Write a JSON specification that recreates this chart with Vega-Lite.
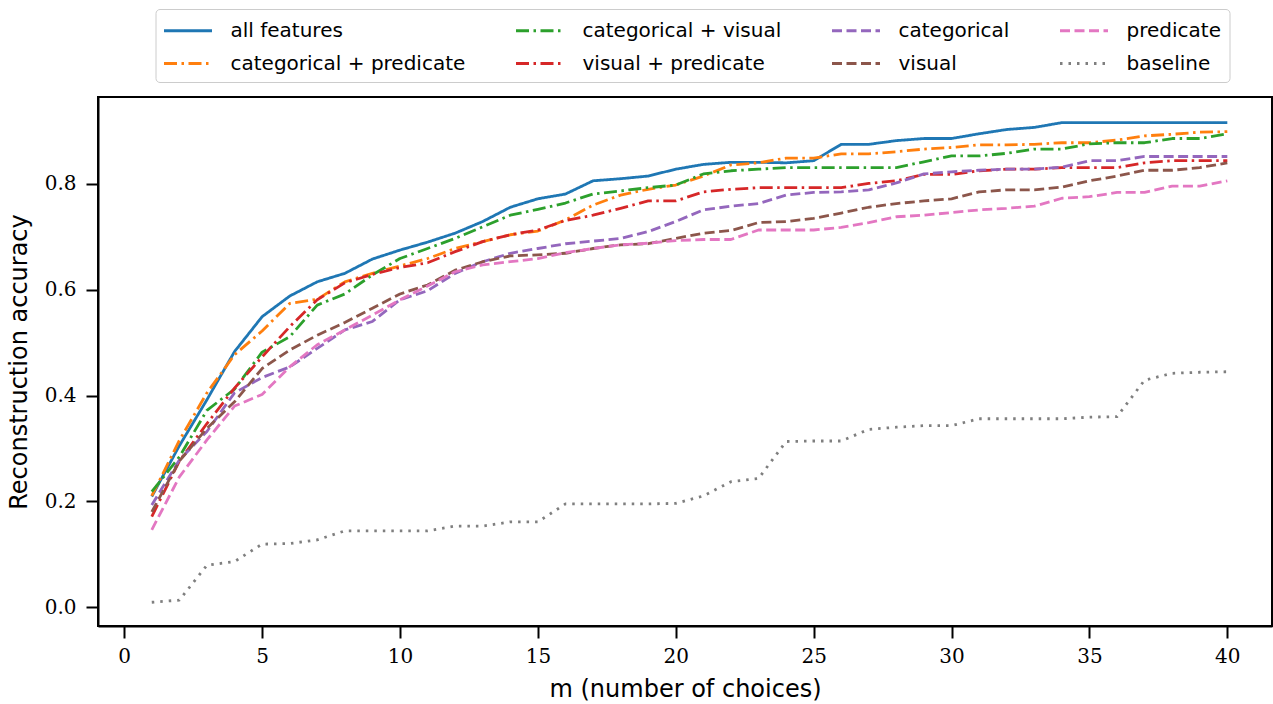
{
"$schema": "https://vega.github.io/schema/vega-lite/v6.json",
"width": 1174, "height": 529,
"autosize": {"type": "none"},
"padding": {"left": 98, "top": 97, "right": 1, "bottom": 78},
"background": "white",
"config": {
  "view": {"stroke": "black", "strokeWidth": 2},
  "axis": {"grid": false, "domainColor": "black", "domainWidth": 2, "tickColor": "black", "tickWidth": 2, "tickSize": 12,
    "labelFont": "DejaVu Serif", "labelFontSize": 20, "labelColor": "black",
    "titleFont": "DejaVu Sans", "titleFontSize": 24, "titleFontWeight": "normal", "titleColor": "black"},
  "legend": {"orient": "none", "legendX": 57.5, "legendY": -88, "columns": 4, "columnPadding": 44, "rowPadding": 9, "padding": 8,
    "strokeColor": "#cccccc", "fillColor": "white", "cornerRadius": 4, "labelFont": "DejaVu Sans", "labelFontSize": 20, "labelColor": "black", "labelLimit": 400,
    "symbolType": "M-2,0H2", "symbolSize": 576, "symbolStrokeWidth": 2.8, "symbolOffset": 11, "labelOffset": 29, "title": null}
},
"datasets": {"acc": [
{"m":1,"series":"all features","acc":0.209},{"m":2,"series":"all features","acc":0.305},{"m":3,"series":"all features","acc":0.392},{"m":4,"series":"all features","acc":0.483},{"m":5,"series":"all features","acc":0.549},{"m":6,"series":"all features","acc":0.588},{"m":7,"series":"all features","acc":0.615},{"m":8,"series":"all features","acc":0.631},{"m":9,"series":"all features","acc":0.658},{"m":10,"series":"all features","acc":0.675},{"m":11,"series":"all features","acc":0.690},{"m":12,"series":"all features","acc":0.707},{"m":13,"series":"all features","acc":0.729},{"m":14,"series":"all features","acc":0.756},{"m":15,"series":"all features","acc":0.772},{"m":16,"series":"all features","acc":0.781},{"m":17,"series":"all features","acc":0.806},{"m":18,"series":"all features","acc":0.810},{"m":19,"series":"all features","acc":0.815},{"m":20,"series":"all features","acc":0.828},{"m":21,"series":"all features","acc":0.837},{"m":22,"series":"all features","acc":0.841},{"m":23,"series":"all features","acc":0.841},{"m":24,"series":"all features","acc":0.840},{"m":25,"series":"all features","acc":0.844},{"m":26,"series":"all features","acc":0.875},{"m":27,"series":"all features","acc":0.875},{"m":28,"series":"all features","acc":0.882},{"m":29,"series":"all features","acc":0.886},{"m":30,"series":"all features","acc":0.886},{"m":31,"series":"all features","acc":0.895},{"m":32,"series":"all features","acc":0.903},{"m":33,"series":"all features","acc":0.907},{"m":34,"series":"all features","acc":0.916},{"m":35,"series":"all features","acc":0.916},{"m":36,"series":"all features","acc":0.916},{"m":37,"series":"all features","acc":0.916},{"m":38,"series":"all features","acc":0.916},{"m":39,"series":"all features","acc":0.916},{"m":40,"series":"all features","acc":0.916},
{"m":1,"series":"categorical + predicate","acc":0.210},{"m":2,"series":"categorical + predicate","acc":0.315},{"m":3,"series":"categorical + predicate","acc":0.405},{"m":4,"series":"categorical + predicate","acc":0.477},{"m":5,"series":"categorical + predicate","acc":0.522},{"m":6,"series":"categorical + predicate","acc":0.574},{"m":7,"series":"categorical + predicate","acc":0.582},{"m":8,"series":"categorical + predicate","acc":0.615},{"m":9,"series":"categorical + predicate","acc":0.631},{"m":10,"series":"categorical + predicate","acc":0.645},{"m":11,"series":"categorical + predicate","acc":0.659},{"m":12,"series":"categorical + predicate","acc":0.678},{"m":13,"series":"categorical + predicate","acc":0.691},{"m":14,"series":"categorical + predicate","acc":0.704},{"m":15,"series":"categorical + predicate","acc":0.711},{"m":16,"series":"categorical + predicate","acc":0.732},{"m":17,"series":"categorical + predicate","acc":0.760},{"m":18,"series":"categorical + predicate","acc":0.779},{"m":19,"series":"categorical + predicate","acc":0.790},{"m":20,"series":"categorical + predicate","acc":0.798},{"m":21,"series":"categorical + predicate","acc":0.815},{"m":22,"series":"categorical + predicate","acc":0.836},{"m":23,"series":"categorical + predicate","acc":0.840},{"m":24,"series":"categorical + predicate","acc":0.849},{"m":25,"series":"categorical + predicate","acc":0.849},{"m":26,"series":"categorical + predicate","acc":0.857},{"m":27,"series":"categorical + predicate","acc":0.857},{"m":28,"series":"categorical + predicate","acc":0.861},{"m":29,"series":"categorical + predicate","acc":0.866},{"m":30,"series":"categorical + predicate","acc":0.869},{"m":31,"series":"categorical + predicate","acc":0.874},{"m":32,"series":"categorical + predicate","acc":0.874},{"m":33,"series":"categorical + predicate","acc":0.875},{"m":34,"series":"categorical + predicate","acc":0.878},{"m":35,"series":"categorical + predicate","acc":0.878},{"m":36,"series":"categorical + predicate","acc":0.883},{"m":37,"series":"categorical + predicate","acc":0.891},{"m":38,"series":"categorical + predicate","acc":0.894},{"m":39,"series":"categorical + predicate","acc":0.898},{"m":40,"series":"categorical + predicate","acc":0.899},
{"m":1,"series":"categorical + visual","acc":0.218},{"m":2,"series":"categorical + visual","acc":0.284},{"m":3,"series":"categorical + visual","acc":0.372},{"m":4,"series":"categorical + visual","acc":0.412},{"m":5,"series":"categorical + visual","acc":0.482},{"m":6,"series":"categorical + visual","acc":0.511},{"m":7,"series":"categorical + visual","acc":0.571},{"m":8,"series":"categorical + visual","acc":0.592},{"m":9,"series":"categorical + visual","acc":0.628},{"m":10,"series":"categorical + visual","acc":0.659},{"m":11,"series":"categorical + visual","acc":0.678},{"m":12,"series":"categorical + visual","acc":0.697},{"m":13,"series":"categorical + visual","acc":0.719},{"m":14,"series":"categorical + visual","acc":0.741},{"m":15,"series":"categorical + visual","acc":0.752},{"m":16,"series":"categorical + visual","acc":0.764},{"m":17,"series":"categorical + visual","acc":0.781},{"m":18,"series":"categorical + visual","acc":0.787},{"m":19,"series":"categorical + visual","acc":0.793},{"m":20,"series":"categorical + visual","acc":0.798},{"m":21,"series":"categorical + visual","acc":0.819},{"m":22,"series":"categorical + visual","acc":0.825},{"m":23,"series":"categorical + visual","acc":0.828},{"m":24,"series":"categorical + visual","acc":0.831},{"m":25,"series":"categorical + visual","acc":0.831},{"m":26,"series":"categorical + visual","acc":0.831},{"m":27,"series":"categorical + visual","acc":0.831},{"m":28,"series":"categorical + visual","acc":0.831},{"m":29,"series":"categorical + visual","acc":0.842},{"m":30,"series":"categorical + visual","acc":0.853},{"m":31,"series":"categorical + visual","acc":0.853},{"m":32,"series":"categorical + visual","acc":0.858},{"m":33,"series":"categorical + visual","acc":0.866},{"m":34,"series":"categorical + visual","acc":0.866},{"m":35,"series":"categorical + visual","acc":0.876},{"m":36,"series":"categorical + visual","acc":0.878},{"m":37,"series":"categorical + visual","acc":0.878},{"m":38,"series":"categorical + visual","acc":0.886},{"m":39,"series":"categorical + visual","acc":0.886},{"m":40,"series":"categorical + visual","acc":0.895},
{"m":1,"series":"visual + predicate","acc":0.171},{"m":2,"series":"visual + predicate","acc":0.276},{"m":3,"series":"visual + predicate","acc":0.347},{"m":4,"series":"visual + predicate","acc":0.414},{"m":5,"series":"visual + predicate","acc":0.473},{"m":6,"series":"visual + predicate","acc":0.530},{"m":7,"series":"visual + predicate","acc":0.581},{"m":8,"series":"visual + predicate","acc":0.613},{"m":9,"series":"visual + predicate","acc":0.629},{"m":10,"series":"visual + predicate","acc":0.642},{"m":11,"series":"visual + predicate","acc":0.651},{"m":12,"series":"visual + predicate","acc":0.672},{"m":13,"series":"visual + predicate","acc":0.691},{"m":14,"series":"visual + predicate","acc":0.704},{"m":15,"series":"visual + predicate","acc":0.713},{"m":16,"series":"visual + predicate","acc":0.731},{"m":17,"series":"visual + predicate","acc":0.741},{"m":18,"series":"visual + predicate","acc":0.754},{"m":19,"series":"visual + predicate","acc":0.768},{"m":20,"series":"visual + predicate","acc":0.768},{"m":21,"series":"visual + predicate","acc":0.785},{"m":22,"series":"visual + predicate","acc":0.790},{"m":23,"series":"visual + predicate","acc":0.793},{"m":24,"series":"visual + predicate","acc":0.793},{"m":25,"series":"visual + predicate","acc":0.793},{"m":26,"series":"visual + predicate","acc":0.793},{"m":27,"series":"visual + predicate","acc":0.801},{"m":28,"series":"visual + predicate","acc":0.806},{"m":29,"series":"visual + predicate","acc":0.818},{"m":30,"series":"visual + predicate","acc":0.818},{"m":31,"series":"visual + predicate","acc":0.825},{"m":32,"series":"visual + predicate","acc":0.828},{"m":33,"series":"visual + predicate","acc":0.828},{"m":34,"series":"visual + predicate","acc":0.831},{"m":35,"series":"visual + predicate","acc":0.831},{"m":36,"series":"visual + predicate","acc":0.831},{"m":37,"series":"visual + predicate","acc":0.840},{"m":38,"series":"visual + predicate","acc":0.844},{"m":39,"series":"visual + predicate","acc":0.844},{"m":40,"series":"visual + predicate","acc":0.844},
{"m":1,"series":"categorical","acc":0.193},{"m":2,"series":"categorical","acc":0.278},{"m":3,"series":"categorical","acc":0.332},{"m":4,"series":"categorical","acc":0.405},{"m":5,"series":"categorical","acc":0.434},{"m":6,"series":"categorical","acc":0.454},{"m":7,"series":"categorical","acc":0.489},{"m":8,"series":"categorical","acc":0.524},{"m":9,"series":"categorical","acc":0.540},{"m":10,"series":"categorical","acc":0.581},{"m":11,"series":"categorical","acc":0.598},{"m":12,"series":"categorical","acc":0.631},{"m":13,"series":"categorical","acc":0.653},{"m":14,"series":"categorical","acc":0.669},{"m":15,"series":"categorical","acc":0.678},{"m":16,"series":"categorical","acc":0.687},{"m":17,"series":"categorical","acc":0.692},{"m":18,"series":"categorical","acc":0.697},{"m":19,"series":"categorical","acc":0.710},{"m":20,"series":"categorical","acc":0.729},{"m":21,"series":"categorical","acc":0.751},{"m":22,"series":"categorical","acc":0.758},{"m":23,"series":"categorical","acc":0.763},{"m":24,"series":"categorical","acc":0.779},{"m":25,"series":"categorical","acc":0.784},{"m":26,"series":"categorical","acc":0.785},{"m":27,"series":"categorical","acc":0.789},{"m":28,"series":"categorical","acc":0.802},{"m":29,"series":"categorical","acc":0.819},{"m":30,"series":"categorical","acc":0.823},{"m":31,"series":"categorical","acc":0.826},{"m":32,"series":"categorical","acc":0.828},{"m":33,"series":"categorical","acc":0.828},{"m":34,"series":"categorical","acc":0.832},{"m":35,"series":"categorical","acc":0.844},{"m":36,"series":"categorical","acc":0.844},{"m":37,"series":"categorical","acc":0.852},{"m":38,"series":"categorical","acc":0.852},{"m":39,"series":"categorical","acc":0.852},{"m":40,"series":"categorical","acc":0.852},
{"m":1,"series":"visual","acc":0.180},{"m":2,"series":"visual","acc":0.276},{"m":3,"series":"visual","acc":0.338},{"m":4,"series":"visual","acc":0.388},{"m":5,"series":"visual","acc":0.451},{"m":6,"series":"visual","acc":0.486},{"m":7,"series":"visual","acc":0.514},{"m":8,"series":"visual","acc":0.538},{"m":9,"series":"visual","acc":0.565},{"m":10,"series":"visual","acc":0.592},{"m":11,"series":"visual","acc":0.609},{"m":12,"series":"visual","acc":0.637},{"m":13,"series":"visual","acc":0.653},{"m":14,"series":"visual","acc":0.664},{"m":15,"series":"visual","acc":0.666},{"m":16,"series":"visual","acc":0.669},{"m":17,"series":"visual","acc":0.678},{"m":18,"series":"visual","acc":0.685},{"m":19,"series":"visual","acc":0.687},{"m":20,"series":"visual","acc":0.697},{"m":21,"series":"visual","acc":0.707},{"m":22,"series":"visual","acc":0.712},{"m":23,"series":"visual","acc":0.727},{"m":24,"series":"visual","acc":0.729},{"m":25,"series":"visual","acc":0.735},{"m":26,"series":"visual","acc":0.745},{"m":27,"series":"visual","acc":0.756},{"m":28,"series":"visual","acc":0.763},{"m":29,"series":"visual","acc":0.768},{"m":30,"series":"visual","acc":0.772},{"m":31,"series":"visual","acc":0.785},{"m":32,"series":"visual","acc":0.789},{"m":33,"series":"visual","acc":0.789},{"m":34,"series":"visual","acc":0.794},{"m":35,"series":"visual","acc":0.806},{"m":36,"series":"visual","acc":0.815},{"m":37,"series":"visual","acc":0.826},{"m":38,"series":"visual","acc":0.826},{"m":39,"series":"visual","acc":0.831},{"m":40,"series":"visual","acc":0.840},
{"m":1,"series":"predicate","acc":0.146},{"m":2,"series":"predicate","acc":0.246},{"m":3,"series":"predicate","acc":0.316},{"m":4,"series":"predicate","acc":0.380},{"m":5,"series":"predicate","acc":0.402},{"m":6,"series":"predicate","acc":0.454},{"m":7,"series":"predicate","acc":0.496},{"m":8,"series":"predicate","acc":0.524},{"m":9,"series":"predicate","acc":0.552},{"m":10,"series":"predicate","acc":0.581},{"m":11,"series":"predicate","acc":0.607},{"m":12,"series":"predicate","acc":0.634},{"m":13,"series":"predicate","acc":0.647},{"m":14,"series":"predicate","acc":0.653},{"m":15,"series":"predicate","acc":0.659},{"m":16,"series":"predicate","acc":0.670},{"m":17,"series":"predicate","acc":0.678},{"m":18,"series":"predicate","acc":0.685},{"m":19,"series":"predicate","acc":0.688},{"m":20,"series":"predicate","acc":0.693},{"m":21,"series":"predicate","acc":0.695},{"m":22,"series":"predicate","acc":0.695},{"m":23,"series":"predicate","acc":0.713},{"m":24,"series":"predicate","acc":0.713},{"m":25,"series":"predicate","acc":0.713},{"m":26,"series":"predicate","acc":0.718},{"m":27,"series":"predicate","acc":0.727},{"m":28,"series":"predicate","acc":0.738},{"m":29,"series":"predicate","acc":0.741},{"m":30,"series":"predicate","acc":0.746},{"m":31,"series":"predicate","acc":0.751},{"m":32,"series":"predicate","acc":0.754},{"m":33,"series":"predicate","acc":0.758},{"m":34,"series":"predicate","acc":0.773},{"m":35,"series":"predicate","acc":0.776},{"m":36,"series":"predicate","acc":0.784},{"m":37,"series":"predicate","acc":0.784},{"m":38,"series":"predicate","acc":0.796},{"m":39,"series":"predicate","acc":0.796},{"m":40,"series":"predicate","acc":0.806},
{"m":1,"series":"baseline","acc":0.009},{"m":2,"series":"baseline","acc":0.013},{"m":3,"series":"baseline","acc":0.079},{"m":4,"series":"baseline","acc":0.086},{"m":5,"series":"baseline","acc":0.119},{"m":6,"series":"baseline","acc":0.120},{"m":7,"series":"baseline","acc":0.127},{"m":8,"series":"baseline","acc":0.144},{"m":9,"series":"baseline","acc":0.144},{"m":10,"series":"baseline","acc":0.144},{"m":11,"series":"baseline","acc":0.144},{"m":12,"series":"baseline","acc":0.153},{"m":13,"series":"baseline","acc":0.153},{"m":14,"series":"baseline","acc":0.161},{"m":15,"series":"baseline","acc":0.161},{"m":16,"series":"baseline","acc":0.195},{"m":17,"series":"baseline","acc":0.195},{"m":18,"series":"baseline","acc":0.195},{"m":19,"series":"baseline","acc":0.195},{"m":20,"series":"baseline","acc":0.196},{"m":21,"series":"baseline","acc":0.210},{"m":22,"series":"baseline","acc":0.237},{"m":23,"series":"baseline","acc":0.243},{"m":24,"series":"baseline","acc":0.313},{"m":25,"series":"baseline","acc":0.314},{"m":26,"series":"baseline","acc":0.314},{"m":27,"series":"baseline","acc":0.336},{"m":28,"series":"baseline","acc":0.340},{"m":29,"series":"baseline","acc":0.343},{"m":30,"series":"baseline","acc":0.343},{"m":31,"series":"baseline","acc":0.356},{"m":32,"series":"baseline","acc":0.356},{"m":33,"series":"baseline","acc":0.356},{"m":34,"series":"baseline","acc":0.356},{"m":35,"series":"baseline","acc":0.359},{"m":36,"series":"baseline","acc":0.360},{"m":37,"series":"baseline","acc":0.429},{"m":38,"series":"baseline","acc":0.442},{"m":39,"series":"baseline","acc":0.444},{"m":40,"series":"baseline","acc":0.445}
]},
"data": {"name": "acc"},
"mark": {"type": "line", "strokeWidth": 2.8, "strokeCap": "butt", "strokeJoin": "round"},
"encoding": {
  "x": {"field": "m", "type": "quantitative", "scale": {"domain": [-0.95, 41.62], "nice": false, "zero": false},
        "axis": {"values": [0,5,10,15,20,25,30,35,40], "title": "m (number of choices)", "labelPadding": 8, "titlePadding": 11}},
  "y": {"field": "acc", "type": "quantitative", "scale": {"domain": [-0.0359, 0.9645], "nice": false, "zero": false},
        "axis": {"values": [0, 0.2, 0.4, 0.6, 0.8], "format": ".1f", "title": "Reconstruction accuracy", "labelPadding": 10, "titlePadding": 13}},
  "color": {"field": "series", "type": "nominal",
    "scale": {"domain": ["all features","categorical + predicate","categorical + visual","visual + predicate","categorical","visual","predicate","baseline"],
              "range": ["#1f77b4","#ff7f0e","#2ca02c","#d62728","#9467bd","#8c564b","#e377c2","#7f7f7f"]}},
  "strokeDash": {"field": "series", "type": "nominal",
    "scale": {"domain": ["all features","categorical + predicate","categorical + visual","visual + predicate","categorical","visual","predicate","baseline"],
              "range": [[1,0],[13,4.5,2.5,4.5],[13,4.5,2.5,4.5],[13,4.5,2.5,4.5],[10,4.5],[10,4.5],[10,4.5],[2.5,6]]}}
}
}
